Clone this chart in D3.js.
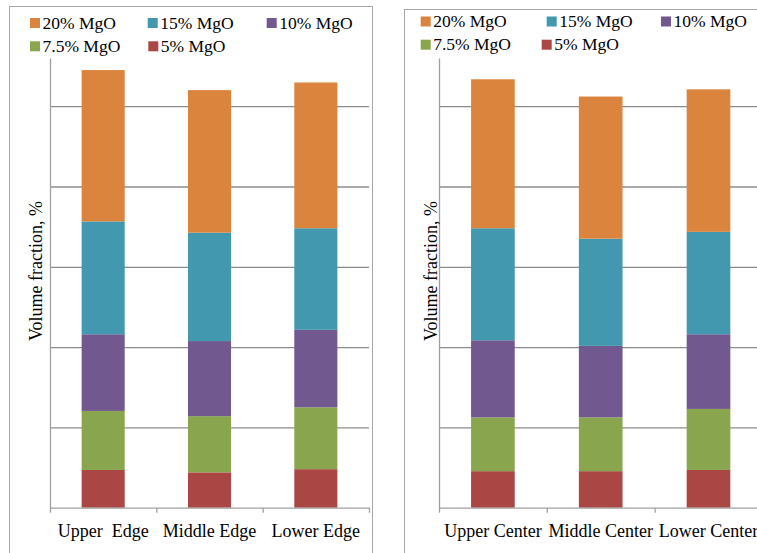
<!DOCTYPE html>
<html>
<head>
<meta charset="utf-8">
<script src="https://cdn.jsdelivr.net/npm/d3@7"></script>
<style>
  html, body { margin: 0; padding: 0; background: #fff; }
  svg { display: block; }
</style>
</head>
<body>
<svg id="chart" width="757" height="553"></svg>
<script>
// ---- data ----
const seriesNames = ["20% MgO", "15% MgO", "10% MgO", "7.5% MgO", "5% MgO"];
const seriesColors = ["#DB843D", "#4198AF", "#71588F", "#89A54E", "#AA4643"];
const edgeCategories = ["Upper  Edge", "Middle Edge", "Lower Edge"];
const centerCategories = ["Upper Center", "Middle Center", "Lower Center"];

const edge5 = [9.4, 8.8, 9.6];
const edge7_5 = [14.7, 14.0, 15.4];
const edge10 = [19.1, 18.7, 19.3];
const edge15 = [28.1, 27.0, 25.3];
const edge20 = [37.7, 35.5, 36.3];

const center5 = [9.1, 9.1, 9.4];
const center7_5 = [13.4, 13.4, 15.2];
const center10 = [19.2, 17.8, 18.6];
const center15 = [27.9, 26.7, 25.5];
const center20 = [37.1, 35.4, 35.5];

const yTicks = [20, 40, 60, 80, 100];
const yMax = 112;
const yLabel = "Volume fraction, %";

// ---- drawing ----
const FONT = '"Liberation Serif", "DejaVu Serif", serif';
const svg = d3.select("#chart");
const stackKeys = ["5% MgO", "7.5% MgO", "10% MgO", "15% MgO", "20% MgO"];
const color = d3.scaleOrdinal().domain(seriesNames).range(seriesColors);

function buildRows(cats, s5, s75, s10, s15, s20) {
  return cats.map((c, i) => ({
    cat: c,
    "5% MgO": s5[i], "7.5% MgO": s75[i], "10% MgO": s10[i],
    "15% MgO": s15[i], "20% MgO": s20[i]
  }));
}

function drawPanel(opt) {
  const g = svg.append("g");
  // panel border
  g.append("rect")
    .attr("x", opt.box[0] + 0.5).attr("y", opt.box[1] + 0.5)
    .attr("width", opt.box[2]).attr("height", opt.box[3])
    .attr("fill", "none").attr("stroke", "#A6A6A6").attr("stroke-width", 1);

  const x = d3.scaleBand().domain(opt.cats).range([opt.x0, opt.x1])
    .paddingInner(0.595).paddingOuter(0.2975);
  const y = d3.scaleLinear().domain([0, yMax]).range([opt.yBase, opt.yTop]);

  // gridlines
  g.append("g").attr("transform", `translate(${opt.x0},0)`)
    .call(d3.axisLeft(y).tickValues(yTicks).tickSize(-(opt.x1 - opt.x0)).tickFormat(""))
    .call(s => s.select(".domain").remove())
    .call(s => s.selectAll("line").attr("stroke", "#8C8C8C").attr("stroke-width", 1.3));

  // bars
  const rows = buildRows(opt.cats, ...opt.series);
  const stacked = d3.stack().keys(stackKeys)(rows);
  g.append("g").selectAll("g").data(stacked).join("g")
    .attr("fill", d => color(d.key))
    .selectAll("rect").data(d => d).join("rect")
    .attr("x", d => x(d.data.cat))
    .attr("width", x.bandwidth())
    .attr("y", d => y(d[1]))
    .attr("height", d => y(d[0]) - y(d[1]));

  // y axis line
  g.append("g").attr("transform", `translate(${opt.x0},0)`)
    .call(d3.axisLeft(y).tickValues([]).tickSize(0))
    .call(s => s.select(".domain").attr("stroke", "#A0A0A0").attr("stroke-width", 1.3));

  // x axis with boundary ticks
  const xb = d3.scaleLinear().domain([0, 3]).range([opt.x0, opt.x1]);
  g.append("g").attr("transform", `translate(0,${opt.yBase})`)
    .call(d3.axisBottom(xb).tickValues([0, 1, 2, 3]).tickSize(5).tickSizeOuter(0).tickFormat(""))
    .call(s => s.selectAll("line,path").attr("stroke", "#A0A0A0").attr("stroke-width", 1.3));

  // category labels
  g.append("g").attr("transform", `translate(0,${opt.yBase})`)
    .call(d3.axisBottom(x).tickSize(0).tickPadding(17))
    .call(s => s.select(".domain").remove())
    .call(s => s.selectAll("text")
      .style("font-family", FONT)
      .style("font-size", "18px")
      .style("white-space", "pre")
      .attr("fill", "#000"));

  // y label
  g.append("text")
    .attr("transform", `translate(${opt.yLabelX},${opt.yLabelY}) rotate(-90)`)
    .attr("text-anchor", "middle")
    .style("font-family", FONT)
    .style("font-size", "18px")
    .attr("fill", "#000")
    .text(yLabel);

  // legend
  const leg = g.append("g");
  seriesNames.forEach((name, i) => {
    const p = opt.legendPos[i];
    leg.append("rect").attr("x", p[0]).attr("y", p[1] - 10.5)
      .attr("width", 10).attr("height", 10).attr("fill", color(name));
    leg.append("text").attr("x", p[0] + 12.5).attr("y", p[1])
      .style("font-family", FONT)
      .style("font-size", "17.5px")
      .attr("fill", "#000")
      .text(name);
  });
}

drawPanel({
  box: [9, 6, 363, 560],
  cats: edgeCategories,
  series: [edge5, edge7_5, edge10, edge15, edge20],
  x0: 50, x1: 369, yBase: 507.7, yTop: 58,
  yLabelX: 42, yLabelY: 271,
  legendPos: [[30, 28.5], [147.7, 28.5], [266.7, 28.5], [30, 51.8], [148.3, 51.8]]
});

drawPanel({
  box: [404, 9, 400, 560],
  cats: centerCategories,
  series: [center5, center7_5, center10, center15, center20],
  x0: 439, x1: 762.4, yBase: 507.7, yTop: 58,
  yLabelX: 437, yLabelY: 271,
  legendPos: [[420.7, 27], [546.7, 27], [661, 27], [420.7, 50.2], [541.7, 50.2]]
});
</script>
</body>
</html>
